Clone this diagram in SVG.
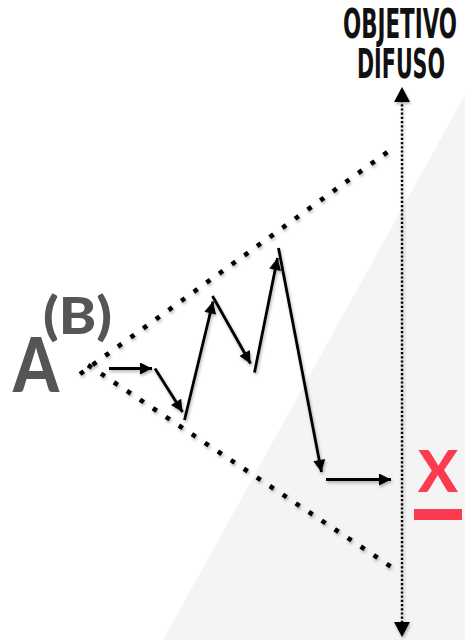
<svg xmlns="http://www.w3.org/2000/svg" width="465" height="640" viewBox="0 0 465 640">
<defs>
<style>
.big{font-family:Lato,"Open Sans","Liberation Sans",sans-serif;font-weight:900;fill:#555}
.title{font-family:"Liberation Sans Narrow","DejaVu Sans Condensed","Liberation Sans",sans-serif;font-weight:bold;font-size:40px;fill:#111;text-anchor:middle}
.dots{stroke:#000;stroke-width:4.6;stroke-dasharray:4.6 11;fill:none}
.vdots{stroke:#000;stroke-width:2.4;stroke-dasharray:2.2 2;fill:none}
.arr{stroke:#000;stroke-width:2.8;fill:none;marker-end:url(#ah)}
</style>
<marker id="ah" viewBox="0 0 10 10" refX="10" refY="5" markerUnits="userSpaceOnUse" markerWidth="14" markerHeight="12" orient="auto">
<path d="M0,0 L10,5 L0,10 z" fill="#000"/>
</marker>
<filter id="sh" x="-20%" y="-20%" width="140%" height="140%">
<feDropShadow dx="1" dy="2" stdDeviation="1.5" flood-color="#000" flood-opacity="0.3"/>
</filter>
</defs>
<rect width="465" height="640" fill="#fff"/>
<polygon points="465,95 465,640 163,640" fill="#f4f4f4"/>
<g id="label-a">
<text class="big" x="13" y="392" font-size="76" textLength="46" lengthAdjust="spacingAndGlyphs">A</text>
</g>
<g id="label-b">
<text class="big" x="43" y="334" font-size="52" textLength="69" lengthAdjust="spacingAndGlyphs">(B)</text>
</g>
<g id="objetivo">
<text class="title" x="400" y="38" textLength="114" lengthAdjust="spacingAndGlyphs">OBJETIVO</text>
<text class="title" x="401" y="77.5" textLength="88" lengthAdjust="spacingAndGlyphs">DIFUSO</text>
</g>
<g id="target-x">
<text x="438" y="492" font-family="Lato,'Liberation Sans',sans-serif" font-weight="900" font-size="57" fill="#fc3a50" text-anchor="middle" textLength="40" lengthAdjust="spacingAndGlyphs">X</text>
<rect x="414" y="509" width="48" height="11" fill="#fc3a50"/>
</g>
<g id="connectors" filter="url(#sh)">
<line class="dots" x1="80" y1="374" x2="393" y2="148"/>
<line class="dots" x1="88" y1="365" x2="393" y2="568"/>
<line class="vdots" x1="402" y1="100" x2="402" y2="626"/>
<path d="M402,87 L394,102 L410,102 z" fill="#000"/>
<path d="M402,637 L394,622 L410,622 z" fill="#000"/>
<line class="arr" x1="109" y1="368.5" x2="152" y2="368.5"/>
<line class="arr" x1="155" y1="368.5" x2="182.5" y2="412"/>
<line class="arr" x1="184.5" y1="420" x2="213" y2="301.5"/>
<line class="arr" x1="212.5" y1="296" x2="250.5" y2="363.5"/>
<line class="arr" x1="254.5" y1="372.5" x2="277.5" y2="258"/>
<line class="arr" x1="278.5" y1="248" x2="321.5" y2="472"/>
<line class="arr" x1="326" y1="479.5" x2="391" y2="479.5"/>
</g>
</svg>
